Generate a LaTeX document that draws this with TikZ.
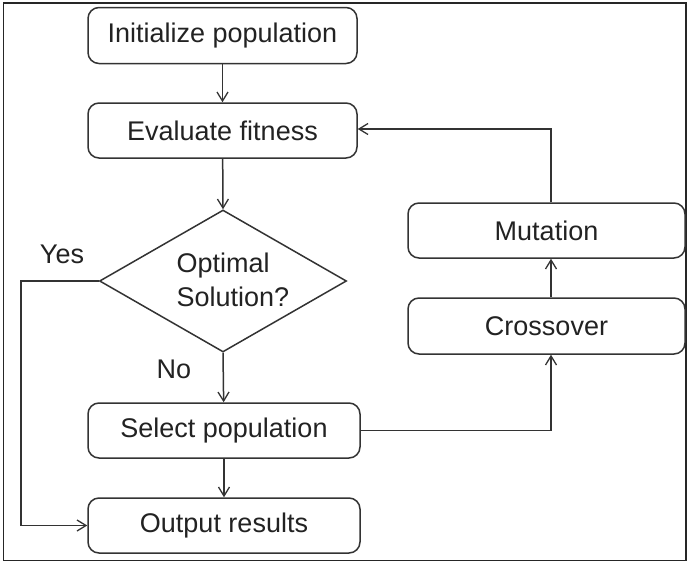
\documentclass[tikz,border=0pt]{standalone}
\usepackage{fontspec}
\setmainfont{Liberation Sans}
\usetikzlibrary{arrows.meta,shapes.geometric}
\definecolor{ink}{HTML}{333333}
\definecolor{txt}{HTML}{222222}
\begin{document}
\begin{tikzpicture}[x=1pt,y=-1pt,
  every node/.style={font=\fontsize{27}{34}\selectfont, text=txt},
  pbox/.style={draw=ink, line width=1.5pt, rounded corners=11pt, inner sep=0pt},
  conn/.style={draw=ink, line width=1.5pt, -{Straight Barb[length=9pt,width=11pt,line width=1.3pt]}},
  plain/.style={draw=ink, line width=1.5pt}]
\useasboundingbox (0,0) rectangle (687,562);
\draw[black!85, line width=1.5pt] (3.5,3) rectangle (686,560.5);
\node[pbox, minimum width=269pt, minimum height=56pt] (init) at (222.5,35.5) {Initialize population};
\node[pbox, minimum width=269pt, minimum height=55pt] (eval) at (222.5,130.5) {Evaluate fitness};
\node[diamond, draw=ink, line width=1.5pt, inner sep=0pt, minimum width=247pt, minimum height=142pt] (dia) at (223,281) {};
\node[align=left, anchor=west] (dtext) at (173,280) {Optimal\\Solution?};
\node[pbox, minimum width=272pt, minimum height=55pt] (sel) at (224,430.5) {Select population};
\node[pbox, minimum width=272pt, minimum height=55pt] (out) at (224,525.5) {Output results};
\node[pbox, minimum width=277pt, minimum height=55pt] (mut) at (546.5,230.5) {Mutation};
\node[pbox, minimum width=277pt, minimum height=56pt] (cross) at (546.5,326) {Crossover};
\node (yes) at (62,254) {Yes};
\node (no) at (174,369) {No};
\coordinate (yesc) at (21,281);
\draw[conn] (init) -- (eval);
\draw[conn] (eval) -- (dia.north);
\draw[conn] (dia.south) -- (sel);
\draw[conn] (sel) -- (out);
\draw[conn] (dia.west) -- (yesc) |- (out.west);
\draw[conn] (sel.east) -| ([xshift=4.5pt]cross.south);
\draw[conn] ([xshift=4.5pt]cross.north) -- ([xshift=4.5pt]mut.south);
\draw[conn] ([xshift=4.5pt]mut.north) |- ([yshift=1.5pt]eval.east);
\end{tikzpicture}
\end{document}
